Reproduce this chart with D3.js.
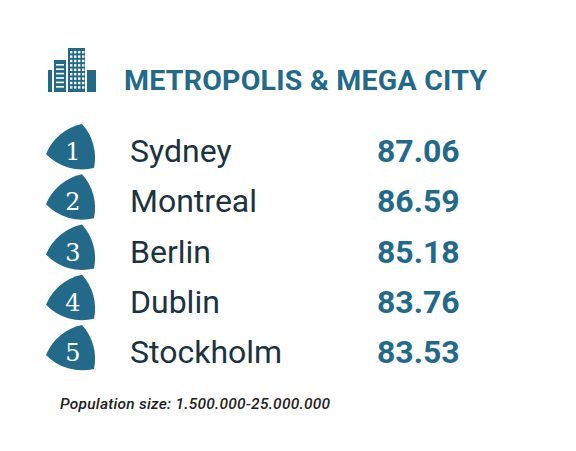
<!DOCTYPE html>
<html><head><meta charset="utf-8">
<script src="https://cdn.jsdelivr.net/npm/d3@7"></script>
<style>body{margin:0;background:#fff}</style></head>
<body><svg id="c" width="576" height="451"></svg>
<script>
const ranks = ["1", "2", "3", "4", "5"];
const cities = ["Sydney", "Montreal", "Berlin", "Dublin", "Stockholm"];
const scores = [87.06, 86.59, 85.18, 83.76, 83.53];

const teal = "#236a8a";
const svg = d3.select("#c");

// title + icon
const icon = svg.append("g").attr("transform", "translate(48,48)").attr("fill", teal);
icon.append("rect").attr("x", 0).attr("y", 22).attr("width", 4).attr("height", 22);
icon.append("rect").attr("x", 6).attr("y", 12).attr("width", 12).attr("height", 32);
icon.append("rect").attr("x", 20).attr("y", 0).attr("width", 17).attr("height", 44);
icon.append("rect").attr("x", 39).attr("y", 22).attr("width", 9).attr("height", 22);
for (let r = 0; r < 9; r++) for (let c = 0; c < 4; c++)
  icon.append("rect").attr("x", 22 + c * 4).attr("y", 3 + r * 4.4).attr("width", 2.4).attr("height", 2.4).attr("fill", "#fff");
for (let r = 0; r < 6; r++)
  icon.append("rect").attr("x", 8).attr("y", 16 + r * 4.4).attr("width", 8).attr("height", 1.6).attr("fill", "#fff");

svg.append("text").attr("x", 124).attr("y", 90)
  .attr("font-family", "Roboto").attr("font-weight", "bold").attr("font-size", 28.5)
  .attr("textLength", 363).attr("fill", teal).text("METROPOLIS & MEGA CITY");

const y = d3.scaleBand().domain(ranks).range([124, 377]).padding(0.04);

const row = svg.selectAll("g.row").data(ranks).join("g")
  .attr("class", "row")
  .attr("transform", d => `translate(0,${y(d) + y.bandwidth() / 2})`);

// curved-triangle badge
const A = [82, -26], B = [46, 4], C = [94, 18];
const R = 50;
row.append("path")
  .attr("d", `M${A} A${R},${R} 0 0 0 ${B} A${R},${R} 0 0 0 ${C} A${R},${R} 0 0 0 ${A} Z`)
  .attr("fill", teal);
row.append("text").attr("x", 73).attr("y", 10)
  .attr("text-anchor", "middle").attr("font-family", "DejaVu Serif").attr("font-size", 24)
  .attr("fill", "#fff").text(d => d);

row.append("text").attr("x", 130).attr("y", 12)
  .attr("font-family", "Roboto").attr("font-size", 32).attr("fill", "#1b3340")
  .text((d, i) => cities[i]);
row.append("text").attr("x", 377).attr("y", 12)
  .attr("font-family", "Roboto").attr("font-weight", "bold").attr("font-size", 32).attr("fill", teal)
  .text((d, i) => scores[i].toFixed(2));

svg.append("text").attr("x", 60).attr("y", 409)
  .attr("font-family", "Roboto").attr("font-style", "italic").attr("font-weight", 500).attr("font-size", 15.5)
  .attr("textLength", 270).attr("fill", "#222")
  .text("Population size: 1.500.000-25.000.000");
</script></body></html>
